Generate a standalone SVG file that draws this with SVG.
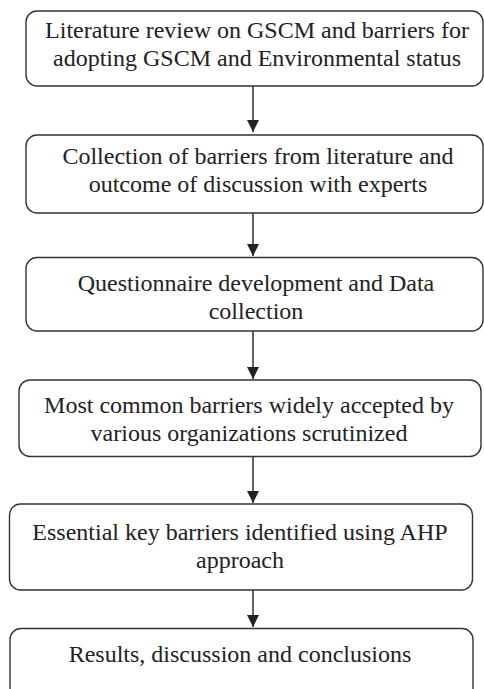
<svg xmlns="http://www.w3.org/2000/svg" width="484" height="689" viewBox="0 0 484 689">
  <defs>
    <marker id="arr" viewBox="0 0 12 12" markerWidth="12" markerHeight="12" refX="12" refY="6" orient="auto" markerUnits="userSpaceOnUse">
      <path d="M0,0 L12,6 L0,12 Z" fill="#222"/>
    </marker>
    <style>
      .box { fill: #fff; stroke: #333; stroke-width: 1.4; }
      .lbl { font-family: "Liberation Serif", "Times New Roman", serif; font-size: 24px; fill: #222; text-anchor: middle; }
      .conn { stroke: #222; stroke-width: 1.4; fill: none; marker-end: url(#arr); }
    </style>
  </defs>
  <rect width="484" height="689" fill="#fff"/>
  <g id="connectors">
    <line class="conn" x1="253" y1="86" x2="253" y2="132"/>
    <line class="conn" x1="253" y1="213" x2="253" y2="256"/>
    <line class="conn" x1="253" y1="331" x2="253" y2="379"/>
    <line class="conn" x1="253" y1="456" x2="253" y2="503"/>
    <line class="conn" x1="253" y1="590" x2="253" y2="627"/>
  </g>
  <g id="n1">
    <rect class="box" x="26" y="11" width="457" height="75" rx="11"/>
    <text class="lbl" x="257" y="37.5">Literature review on GSCM and barriers for</text>
    <text class="lbl" x="257" y="65.5">adopting GSCM and Environmental status</text>
  </g>
  <g id="n2">
    <rect class="box" x="26" y="135" width="457" height="78" rx="11"/>
    <text class="lbl" x="258" y="163.5">Collection of barriers from literature and</text>
    <text class="lbl" x="258" y="192">outcome of discussion with experts</text>
  </g>
  <g id="n3">
    <rect class="box" x="26" y="257.5" width="457" height="73.5" rx="11"/>
    <text class="lbl" x="256" y="290.5">Questionnaire development and Data</text>
    <text class="lbl" x="256" y="318.5">collection</text>
  </g>
  <g id="n4">
    <rect class="box" x="19" y="380" width="462" height="76.5" rx="11"/>
    <text class="lbl" x="249" y="413">Most common barriers widely accepted by</text>
    <text class="lbl" x="249" y="441">various organizations scrutinized</text>
  </g>
  <g id="n5">
    <rect class="box" x="9.5" y="504" width="463" height="86" rx="11"/>
    <text class="lbl" x="240" y="540">Essential key barriers identified using AHP</text>
    <text class="lbl" x="240" y="568">approach</text>
  </g>
  <g id="n6">
    <rect class="box" x="10" y="628.5" width="463" height="80" rx="11"/>
    <text class="lbl" x="240" y="661.5">Results, discussion and conclusions</text>
  </g>
</svg>
